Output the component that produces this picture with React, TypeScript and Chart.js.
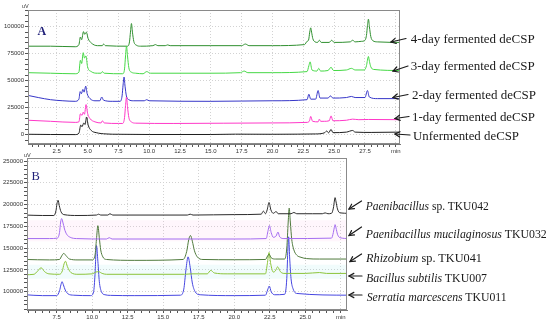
import React, { useEffect, useRef } from "react";
import { Chart, registerables } from "chart.js";
Chart.register(...registerables);

type P = [number, number];

// ---------- Panel A data (time in min, signal in uV) ----------
const unfermented: P[] = [[0.15, 500], [2, 300], [4.0, 200], [4.3, 1500], [4.45, 9000], [4.55, 7500], [4.7, 11000], [4.8, 9500], [4.92, 16500], [5.05, 9000], [5.3, 4000], [5.7, 2000], [6.5, 800], [7.5, 500], [10, 300], [15, 300], [17, 600], [20, 500], [22, 600], [23.5, 800], [24.2, 1800], [24.4, 3500], [24.55, 1800], [24.75, 5000], [24.9, 2000], [26.0, 2500], [26.5, 4000], [26.7, 2500], [28, 2200], [30.4, 2500]];
const day1: P[] = [[0.15, 13500], [2, 12500], [4.0, 11500], [4.3, 12000], [4.42, 19500], [4.55, 18000], [4.65, 21000], [4.75, 19000], [4.88, 28000], [5.0, 20000], [5.2, 15000], [5.6, 12000], [6.1, 11000], [6.2, 13000], [6.35, 11000], [7.5, 10500], [7.85, 10500], [8.0, 16000], [8.08, 27000], [8.16, 35000], [8.24, 26000], [8.35, 16000], [8.55, 12000], [8.9, 10800], [12, 10500], [20, 11000], [22.8, 11500], [23.0, 13000], [23.1, 17000], [23.25, 12500], [23.7, 12000], [23.8, 14500], [23.9, 12500], [24.2, 12500], [24.6, 13000], [24.75, 17500], [24.9, 13000], [26.0, 13500], [26.5, 14500], [27, 14000], [27.8, 14200], [30.4, 14000]];
const day2: P[] = [[0.15, 36500], [1, 34500], [2, 32500], [3, 31500], [4.0, 31000], [4.3, 33000], [4.4, 40000], [4.5, 38000], [4.62, 42000], [4.72, 39500], [4.85, 45000], [4.97, 38000], [5.2, 33500], [5.6, 31500], [6.0, 31500], [6.15, 35000], [6.3, 32000], [7.0, 31000], [7.65, 31000], [7.8, 36000], [7.88, 46000], [7.96, 53500], [8.04, 45000], [8.15, 36000], [8.35, 32500], [8.7, 31500], [9.6, 31500], [9.8, 32500], [10, 31500], [15, 31000], [20, 31500], [22.8, 32500], [22.95, 37500], [23.1, 33000], [23.5, 33000], [23.7, 41000], [23.85, 34000], [24.5, 34000], [24.7, 36000], [24.9, 34000], [26, 34500], [26.4, 35500], [26.7, 34500], [27.5, 34500], [27.7, 41000], [27.85, 35000], [28.5, 33500], [30.4, 33500]];
const day3: P[] = [[0.15, 57500], [2, 57000], [4.0, 56500], [4.3, 58000], [4.42, 69000], [4.52, 66000], [4.65, 76000], [4.75, 71000], [4.87, 73000], [5.0, 63000], [5.3, 58500], [5.8, 57000], [6.1, 57000], [6.2, 58500], [6.35, 57000], [7.85, 56500], [8.0, 61000], [8.08, 73000], [8.16, 82000], [8.24, 73000], [8.35, 62000], [8.55, 58000], [8.9, 57000], [9.5, 56500], [9.8, 58500], [10.1, 57000], [15, 57000], [17.4, 57500], [17.7, 59000], [18.0, 57500], [20, 57500], [22.8, 58500], [22.95, 64000], [23.05, 67500], [23.2, 60000], [23.6, 59000], [23.75, 61500], [23.9, 59000], [24.5, 59500], [24.75, 62500], [24.95, 59500], [26, 60000], [26.4, 61500], [26.7, 60000], [27.45, 60000], [27.62, 64000], [27.7, 69000], [27.78, 72500], [27.86, 68000], [27.97, 63000], [28.2, 60500], [30.4, 59500]];
const day4: P[] = [[0.15, 82000], [2, 82000], [4.0, 81500], [4.3, 83500], [4.42, 90500], [4.52, 88000], [4.67, 95500], [4.77, 93000], [4.9, 95000], [5.05, 89000], [5.3, 85000], [5.8, 82500], [6.2, 82500], [6.3, 84000], [6.45, 82500], [8.25, 82000], [8.4, 86000], [8.48, 95000], [8.56, 103000], [8.64, 95000], [8.75, 86500], [8.95, 83000], [9.3, 82000], [10.3, 82500], [10.5, 83500], [10.7, 82500], [11.3, 82500], [11.5, 83200], [11.7, 82500], [15, 82500], [17.5, 82500], [17.8, 84000], [18.1, 82500], [20, 82500], [22.6, 83500], [22.8, 86500], [22.92, 87500], [23.02, 95000], [23.1, 99000], [23.17, 95000], [23.27, 89000], [23.45, 86000], [23.65, 85500], [23.8, 87500], [23.95, 85500], [24.6, 85500], [24.8, 87500], [25.0, 85500], [26.3, 86000], [26.5, 87500], [26.7, 86000], [27.2, 86500], [27.45, 87000], [27.62, 92000], [27.7, 101000], [27.78, 107000], [27.86, 100000], [27.97, 91000], [28.15, 87000], [28.5, 86000], [30.4, 85500]];

// ---------- Panel B data ----------
const paeSp: P[] = [[5.3, 188000], [6.5, 187500], [7.3, 187500], [7.45, 193000], [7.52, 201000], [7.6, 205000], [7.68, 199000], [7.8, 192000], [8.0, 188500], [9, 187500], [10.3, 188000], [10.45, 189000], [10.6, 188000], [11.1, 188000], [11.25, 189500], [11.45, 188000], [16.7, 188000], [16.9, 189000], [17.1, 188000], [20, 188500], [21.9, 189000], [22.05, 192500], [22.2, 189500], [22.32, 194000], [22.45, 202500], [22.58, 194000], [22.75, 190000], [22.95, 192000], [23.1, 189500], [24.0, 189500], [24.2, 191000], [24.4, 189500], [25.5, 189500], [26.2, 189500], [26.4, 190500], [26.6, 189500], [26.85, 190000], [26.98, 196000], [27.05, 204000], [27.1, 208000], [27.17, 203000], [27.27, 195000], [27.45, 190500], [28.1, 190000]];
const paeMuc: P[] = [[5.3, 161000], [7.0, 161000], [7.55, 161500], [7.7, 168000], [7.78, 180000], [7.85, 184000], [7.93, 180000], [8.05, 172000], [8.2, 166000], [8.45, 162500], [8.9, 161000], [11.0, 160500], [11.2, 162000], [11.4, 160500], [17, 160500], [20, 160500], [22.25, 161000], [22.38, 170000], [22.48, 176000], [22.6, 168000], [22.75, 162500], [22.95, 164000], [23.08, 168500], [23.2, 163000], [23.5, 161000], [26.85, 161500], [26.98, 168000], [27.05, 174000], [27.1, 177000], [27.17, 173000], [27.27, 166000], [27.45, 162000], [28.1, 161000]];
const rhizobium: P[] = [[5.3, 137000], [7.0, 136500], [7.7, 137000], [7.85, 141000], [8.0, 144000], [8.15, 141500], [8.4, 137500], [9, 136500], [10.0, 136500], [10.2, 142000], [10.3, 160000], [10.4, 175800], [10.5, 162000], [10.6, 148000], [10.75, 140000], [11.0, 137000], [13, 136000], [16.4, 137000], [16.65, 146000], [16.8, 160000], [16.92, 164500], [17.05, 158000], [17.2, 147000], [17.4, 140000], [17.8, 137000], [20, 136700], [22.2, 137000], [22.35, 141000], [22.45, 143000], [22.6, 139000], [22.9, 137500], [23.55, 137500], [23.7, 150000], [23.8, 180000], [23.87, 196000], [23.95, 180000], [24.05, 160000], [24.2, 148000], [24.4, 142000], [24.7, 139500], [25.1, 138000], [26, 137500], [28.1, 137500]];
const bSubtilis: P[] = [[5.3, 119500], [5.9, 120000], [6.15, 123500], [6.4, 127500], [6.65, 123000], [6.95, 120500], [7.7, 120000], [7.9, 124000], [8.02, 132000], [8.12, 135000], [8.25, 129000], [8.5, 122000], [9, 120000], [10.0, 120500], [10.25, 122500], [10.45, 123000], [10.7, 121000], [11, 120000], [16.5, 120000], [17.0, 120500], [18.1, 120500], [18.35, 124500], [18.6, 121500], [19.5, 120500], [22.2, 120500], [22.33, 132000], [22.45, 145000], [22.57, 132000], [22.75, 122500], [22.9, 124000], [23.05, 128500], [23.25, 123000], [23.5, 121000], [25, 121000], [26, 122000], [26.5, 121000], [28.1, 121000]];
const serratia: P[] = [[5.3, 96500], [6.5, 95500], [7.5, 95500], [7.7, 101000], [7.8, 108000], [7.88, 111500], [7.97, 108000], [8.1, 102000], [8.3, 97500], [8.7, 96000], [9.9, 95500], [10.1, 100000], [10.2, 120000], [10.3, 153000], [10.4, 135000], [10.5, 112000], [10.65, 100000], [10.9, 96500], [11.3, 95800], [13, 95500], [16.2, 96000], [16.45, 103000], [16.6, 125000], [16.75, 140000], [16.9, 128000], [17.05, 110000], [17.25, 100000], [17.6, 96500], [20, 95500], [22.2, 96000], [22.35, 102000], [22.47, 106500], [22.6, 100000], [22.85, 96500], [23.55, 97000], [23.7, 115000], [23.78, 150000], [23.83, 163000], [23.9, 140000], [24.0, 115000], [24.15, 103000], [24.4, 98000], [28.1, 96000]];
const pinkBand = [158000, 182000];
const cyanBand = [115000, 131000];

// ---------- Axes ----------
const aXRange = [0.17, 30.34];
const aYRange = [-8500, 115500];
const aXTicks = [2.5, 5, 7.5, 10, 12.5, 15, 17.5, 20, 22.5, 25, 27.5, 30];
const aXLabels = ["2.5", "5.0", "7.5", "10.0", "12.5", "15.0", "17.5", "20.0", "22.5", "25.0", "27.5", "min"];
const aYTicks = [0, 25000, 50000, 75000, 100000];
const aYLabels = ["0", "25000", "50000", "75000", "100000"];

const bXRange = [5.41, 27.94];
const bYRange = [79000, 253500];
const bXTicks = [7.5, 10, 12.5, 15, 17.5, 20, 22.5, 25, 27.5];
const bXLabels = ["7.5", "10.0", "12.5", "15.0", "17.5", "20.0", "22.5", "25.0", "min"];
const bYTicks = [100000, 125000, 150000, 175000, 200000, 225000, 250000];
const bYLabels = ["100000", "125000", "150000", "175000", "200000", "225000", "250000"];

const TICK_FONT = { size: 6, family: "Liberation Sans" };

function axis(range: number[], majors: number[], labels: string[], minorStep: number, fitSize: number, isX: boolean) {
  const isMajor = (v: number) => majors.some((m) => Math.abs(m - v) < 1e-6);
  return {
    type: "linear" as const,
    min: range[0],
    max: range[1],
    afterBuildTicks: (s: any) => {
      const t: any[] = [];
      const start = Math.ceil(range[0] / minorStep) * minorStep;
      for (let k = 0; ; k++) {
        const v = Math.round((start + k * minorStep) * 1000) / 1000;
        if (v > range[1] + 1e-9) break;
        t.push({ value: v });
      }
      s.ticks = t;
    },
    afterFit: (s: any) => {
      if (isX) s.height = fitSize;
      else s.width = fitSize;
    },
    ticks: {
      autoSkip: false,
      maxRotation: 0,
      padding: 1,
      font: TICK_FONT,
      color: "#333",
      callback: (v: any) => {
        const i = majors.findIndex((m) => Math.abs(m - v) < 1e-6);
        return i >= 0 ? labels[i] : "";
      },
    },
    grid: {
      color: (ctx: any) => (ctx.tick && isMajor(ctx.tick.value) ? "#d2d2d2" : "rgba(0,0,0,0)"),
      tickColor: "#555",
      tickLength: 3,
      lineWidth: 1,
    },
    border: { display: true, color: "#777", dash: [1, 2] },
  };
}

const framePlugin = {
  id: "frame",
  afterDraw(chart: any) {
    const { ctx, chartArea: a } = chart;
    ctx.save();
    ctx.strokeStyle = "#8a8a8a";
    ctx.lineWidth = 1;
    ctx.setLineDash([]);
    ctx.strokeRect(Math.round(a.left) + 0.5, Math.round(a.top) + 0.5, Math.round(a.right - a.left) - 1, Math.round(a.bottom - a.top) - 1);
    ctx.restore();
  },
};

const pts = (d: P[]) => d.map(([x, y]) => ({ x, y }));
const line = (d: P[], color: string) => ({
  data: pts(d),
  borderColor: color,
  borderWidth: 1,
  pointRadius: 0,
  fill: false,
  cubicInterpolationMode: "monotone" as const,
});

function useChart(ref: React.RefObject<HTMLCanvasElement | null>, make: () => any) {
  useEffect(() => {
    if (!ref.current) return;
    const c = new Chart(ref.current, make());
    return () => c.destroy();
  }, []);
}

function Arrow({ x1, y1, x2, y2 }: { x1: number; y1: number; x2: number; y2: number }) {
  const ang = Math.atan2(y2 - y1, x2 - x1);
  const L = 5.5;
  const a1 = ang + Math.PI - 0.5;
  const a2 = ang + Math.PI + 0.5;
  return (
    <g stroke="#1a1a1a" strokeWidth={1.2} fill="none" strokeLinecap="round">
      <line x1={x1} y1={y1} x2={x2} y2={y2} />
      <polyline points={`${x2 + L * Math.cos(a1)},${y2 + L * Math.sin(a1)} ${x2},${y2} ${x2 + L * Math.cos(a2)},${y2 + L * Math.sin(a2)}`} />
    </g>
  );
}

export default function App() {
  const refA = useRef<HTMLCanvasElement>(null);
  const refB = useRef<HTMLCanvasElement>(null);

  useChart(refA, () => ({
    type: "line",
    data: {
      datasets: [
        line(unfermented, "#1e1e1e"),
        line(day1, "#ff38c8"),
        line(day2, "#3636c8"),
        line(day3, "#45d845"),
        line(day4, "#2f8f2f"),
      ],
    },
    options: {
      animation: false,
      responsive: false,
      devicePixelRatio: 1,
      layout: { padding: { left: 0, right: 150, top: 10, bottom: 0 } },
      plugins: { legend: { display: false }, tooltip: { enabled: false } },
      scales: {
        x: axis(aXRange, aXTicks, aXLabels, 0.5, 14, true),
        y: axis(aYRange, aYTicks, aYLabels, 5000, 28, false),
      },
    },
    plugins: [framePlugin],
  }));

  useChart(refB, () => ({
    type: "line",
    data: {
      datasets: [
        line(paeSp, "#2a2a2a"),
        line(paeMuc, "#a46cf0"),
        line(rhizobium, "#4f7a3c"),
        line(bSubtilis, "#8cc43a"),
        line(serratia, "#4646e0"),
        { data: [{ x: bXRange[0], y: pinkBand[1] }, { x: bXRange[1], y: pinkBand[1] }], borderWidth: 0, pointRadius: 0, fill: false },
        { data: [{ x: bXRange[0], y: pinkBand[0] }, { x: bXRange[1], y: pinkBand[0] }], borderWidth: 0, pointRadius: 0, fill: "-1", backgroundColor: "rgba(255,170,225,0.11)" },
        { data: [{ x: bXRange[0], y: cyanBand[1] }, { x: bXRange[1], y: cyanBand[1] }], borderWidth: 0, pointRadius: 0, fill: false },
        { data: [{ x: bXRange[0], y: cyanBand[0] }, { x: bXRange[1], y: cyanBand[0] }], borderWidth: 0, pointRadius: 0, fill: "-1", backgroundColor: "rgba(150,235,235,0.13)" },
      ],
    },
    options: {
      animation: false,
      responsive: false,
      devicePixelRatio: 1,
      layout: { padding: { left: 0, right: 203, top: 8, bottom: 0 } },
      plugins: { legend: { display: false }, tooltip: { enabled: false } },
      scales: {
        x: axis(bXRange, bXTicks, bXLabels, 0.5, 15, true),
        y: axis(bYRange, bYTicks, bYLabels, 5000, 27, false),
      },
    },
    plugins: [framePlugin],
  }));

  const serif = "'Liberation Serif', 'DejaVu Serif', serif";
  const T = (x: number, y: number, w: number, children: React.ReactNode) => (
    <text x={x} y={y} textLength={w} lengthAdjust="spacingAndGlyphs" fontFamily={serif} fontSize={12.5} fill="#1a1a1a">
      {children}
    </text>
  );

  return (
    <div style={{ position: "fixed", left: 0, top: 0, width: 550, height: 325, background: "#fff", overflow: "hidden" }}>
      <canvas ref={refA} width={550} height={158} style={{ position: "absolute", left: 0, top: 0, width: 550, height: 158 }} />
      <canvas ref={refB} width={550} height={175} style={{ position: "absolute", left: 0, top: 150, width: 550, height: 175 }} />
      <svg width={550} height={325} style={{ position: "absolute", left: 0, top: 0, pointerEvents: "none" }}>
        <text x={22} y={8} fontFamily="Liberation Sans" fontSize={5.5} fill="#333">uV</text>
        <text x={24} y={157} fontFamily="Liberation Sans" fontSize={5.5} fill="#333">uV</text>
        <text x={37.5} y={35} fontFamily={serif} fontWeight="bold" fontSize={12} fill="#1f1f78">A</text>
        <text x={31.5} y={180} fontFamily={serif} fontSize={12.5} fill="#1f1f78">B</text>

        <Arrow x1={406} y1={38.5} x2={391} y2={42} />
        <Arrow x1={408} y1={66} x2={393} y2={71} />
        <Arrow x1={408} y1={94.5} x2={393} y2={97.5} />
        <Arrow x1={409} y1={116.5} x2={395} y2={118.5} />
        <Arrow x1={410} y1={135} x2={395} y2={134} />
        {T(410.7, 42.5, 124, "4-day fermented deCSP")}
        {T(410.7, 70.2, 124, "3-day fermented deCSP")}
        {T(412, 98.5, 124, "2-day fermented deCSP")}
        {T(412, 120.8, 123, "1-day fermented deCSP")}
        {T(413, 140, 106, "Unfermented deCSP")}

        <Arrow x1={361.5} y1={201} x2={349} y2={209} />
        <Arrow x1={361.5} y1={227} x2={349} y2={235.5} />
        <Arrow x1={361.5} y1={254} x2={350} y2={261.5} />
        <Arrow x1={362} y1={276} x2={349} y2={276} />
        <Arrow x1={362} y1={295} x2={349} y2={295} />
        {T(365.7, 209.5, 123, <><tspan fontStyle="italic">Paenibacillus</tspan> sp. TKU042</>)}
        {T(365.7, 237.8, 181, <><tspan fontStyle="italic">Paenibacillus mucilaginosus</tspan> TKU032</>)}
        {T(366, 261.8, 116, <><tspan fontStyle="italic">Rhizobium</tspan> sp. TKU041</>)}
        {T(366, 281.8, 121, <><tspan fontStyle="italic">Bacillus subtilis</tspan> TKU007</>)}
        {T(366.7, 301.2, 140, <><tspan fontStyle="italic">Serratia marcescens</tspan> TKU011</>)}
      </svg>
    </div>
  );
}
